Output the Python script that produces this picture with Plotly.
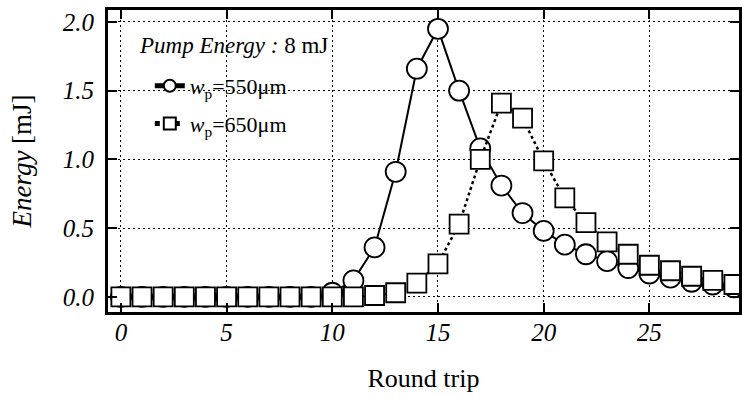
import plotly.graph_objects as go

round_trip = list(range(30))
energy_550 = [0, 0, 0, 0, 0, 0, 0, 0, 0, 0, 0.03, 0.12, 0.36, 0.91, 1.66, 1.95, 1.50, 1.08,
              0.81, 0.61, 0.48, 0.38, 0.31, 0.26, 0.21, 0.17, 0.14, 0.11, 0.09, 0.07]
energy_650 = [0, 0, 0, 0, 0, 0, 0, 0, 0, 0, 0, 0, 0.01, 0.03, 0.10, 0.24, 0.53, 1.00,
              1.41, 1.30, 0.99, 0.72, 0.54, 0.40, 0.31, 0.23, 0.19, 0.15, 0.12, 0.09]
x_ticks = [0, 5, 10, 15, 20, 25]
y_ticks = [0.0, 0.5, 1.0, 1.5, 2.0]
y_tick_text = ["0.0", "0.5", "1.0", "1.5", "2.0"]

SERIF = "Liberation Serif"

fig = go.Figure()
fig.add_trace(go.Scatter(
    x=round_trip, y=energy_550, mode="lines+markers",
    name="<i>w</i><sub>p</sub>=550μm", legendgroup="a",
    line=dict(color="black", width=2),
    marker=dict(symbol="circle", size=20, color="white", line=dict(color="black", width=1.8)),
))
fig.add_trace(go.Scatter(
    x=round_trip, y=energy_650, mode="lines+markers",
    name="<i>w</i><sub>p</sub>=650μm", legendgroup="b",
    line=dict(color="black", width=2.5, dash="dot"),
    marker=dict(symbol="square", size=19, color="white", line=dict(color="black", width=1.8)),
))

fig.add_annotation(
    x=(137 - 108) / 634, y=(312 - 45) / 302, xref="paper", yref="paper",
    xanchor="left", yanchor="middle", showarrow=False,
    text="<i>Pump Energy :</i> 8 mJ",
    font=dict(family=SERIF, size=23, color="black"),
)

fig.update_layout(
    width=742, height=397,
    margin=dict(l=108, r=0, t=10, b=85),
    paper_bgcolor="white", plot_bgcolor="white",
    showlegend=True,
    legend=dict(x=(150 - 108) / 634, y=(312 - 65) / 302, xanchor="left", yanchor="top",
                bgcolor="rgba(0,0,0,0)", font=dict(family=SERIF, size=22, color="black"),
                tracegroupgap=6, itemsizing="constant"),
    font=dict(family=SERIF, color="black"),
)
fig.update_xaxes(
    range=[-0.61, 29.24], tickmode="array", tickvals=x_ticks,
    ticks="inside", ticklen=9, tickwidth=2, tickcolor="black",
    showline=True, linewidth=3, linecolor="black", mirror="ticks",
    showgrid=True, gridcolor="black", gridwidth=1, griddash="2px,3px",
    zeroline=False, ticklabelstandoff=-4,
    tickfont=dict(family=SERIF, size=25, style="italic", color="black"),
    title=dict(text="Round trip", font=dict(family=SERIF, size=26, color="black"), standoff=24),
)
fig.update_yaxes(
    range=[-0.11, 2.087], tickmode="array", tickvals=y_ticks, ticktext=y_tick_text,
    ticks="inside", ticklen=9, tickwidth=2, tickcolor="black",
    showline=True, linewidth=3, linecolor="black", mirror="ticks",
    showgrid=True, gridcolor="black", gridwidth=1, griddash="2px,3px",
    zeroline=False, ticklabelstandoff=6,
    tickfont=dict(family=SERIF, size=25, style="italic", color="black"),
    title=dict(text="<i>Energy</i> [mJ]", font=dict(family=SERIF, size=27, color="black"), standoff=24),
)

fig.write_html("out.html")
